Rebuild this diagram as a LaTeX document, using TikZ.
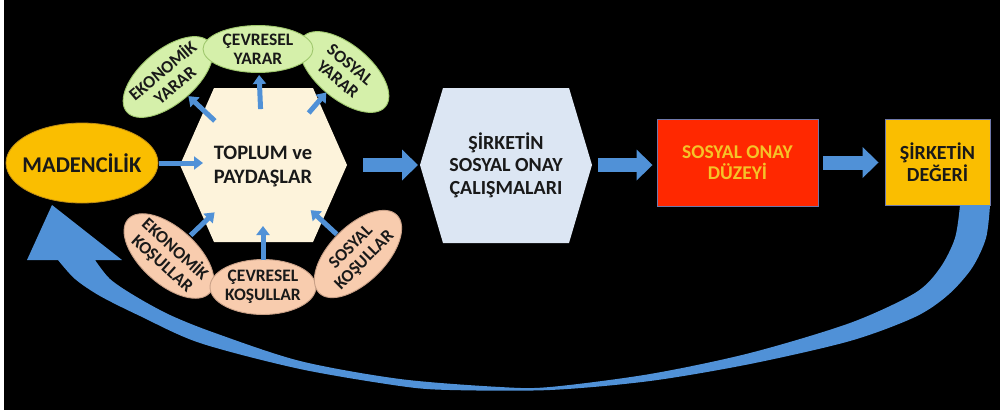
\documentclass[tikz,border=0pt]{standalone}
\usepackage{fontspec}
\setmainfont{Carlito}
\usetikzlibrary{arrows.meta,shapes.geometric}

\definecolor{flowblue}{RGB}{80,145,215}
\definecolor{goldfill}{RGB}{250,190,0}
\definecolor{goldline}{RGB}{190,140,20}
\definecolor{creamfill}{RGB}{253,243,219}
\definecolor{paleblue}{RGB}{220,230,243}
\definecolor{greenfill}{RGB}{213,240,170}
\definecolor{greenline}{RGB}{160,200,110}
\definecolor{peachfill}{RGB}{248,204,174}
\definecolor{peachline}{RGB}{200,160,135}
\definecolor{redfill}{RGB}{255,40,0}
\definecolor{boxline}{RGB}{110,120,170}
\definecolor{ambertext}{RGB}{245,195,40}
\definecolor{darktext}{RGB}{25,25,25}

\begin{document}
\begin{tikzpicture}[x=1pt,y=-1pt,
  maintext/.style={font=\bfseries\fontsize{20.5}{23}\selectfont, text=darktext, align=center, inner sep=0pt},
  bubble/.style={ellipse, draw, line width=0.9pt, inner sep=0pt},
  bubbletext/.style={align=center, inner sep=0pt, text=darktext, font=\bfseries\fontsize{17.5}{19}\selectfont},
  benefit/.style={bubble, fill=greenfill, draw=greenline, minimum width=108, minimum height=54},
  condition/.style={bubble, fill=peachfill, draw=peachline, minimum width=110, minimum height=56},
  statebox/.style={rectangle, draw=boxline, line width=0.9pt, align=center, inner sep=0pt},
  smallarrow/.style={draw=flowblue, line width=5pt, -{Triangle[width=13pt,length=9pt]}},
  bigarrow/.style={draw=flowblue, line width=14pt, -{Triangle[width=30pt,length=16pt]}}
]
\useasboundingbox (0,0) rectangle (1000,410);
\fill[white] (0,0) rectangle (1000,410);
\fill[black] (4,0) rectangle (1000,410);

% hexagon bodies
\fill[creamfill] (180,165) -- (214,88) -- (313,88) -- (347,165) -- (313,242) -- (214,242) -- cycle;
\fill[paleblue] (420,165) -- (443,88) -- (569,88) -- (592,165) -- (569,243) -- (443,243) -- cycle;

% text of the hexagons
\node[maintext, font=\bfseries\fontsize{20.5}{24}\selectfont] (hex1) at (263,166) {TOPLUM ve\\PAYDAŞLAR};
\node[maintext, font=\bfseries\fontsize{20}{22.5}\selectfont] (hex2) at (506,165) {ŞİRKETİN\\SOSYAL ONAY\\ÇALIŞMALARI};
\coordinate (hex1e) at (347,165);
\coordinate (hex2w) at (420,165);
\coordinate (hex2e) at (592,165);

% mining
\node[ellipse, fill=goldfill, draw=goldline, line width=0.8pt, minimum width=152, minimum height=80,
  inner sep=0pt] (maden) at (82,163) {};
\node[maintext, font=\bfseries\fontsize{22.5}{24}\selectfont] (madentext) at (maden) {MADENCİLİK};

% benefits
\node[benefit, rotate=40] (ekyarar) at (168,77) {};
\node[benefit, rotate=-40] (sosyarar) at (344,72) {};
\node[benefit, minimum width=110, minimum height=47] (cevyarar) at (258,49) {};
\node[bubbletext, rotate=40] (ekyarartext) at (ekyarar) {EKONOMİK\\YARAR};
\node[bubbletext, rotate=-40] (sosyarartext) at (sosyarar) {SOSYAL\\YARAR};
\node[bubbletext] (cevyarartext) at (cevyarar) {ÇEVRESEL\\YARAR};

% conditions
\node[condition, rotate=-42] (ekkos) at (169,256) {};
\node[condition, minimum width=106, minimum height=55] (cevkos) at (263,287) {};
\node[condition, rotate=45] (soskos) at (358,254) {};
\node[bubbletext, rotate=-42] (ekkostext) at (ekkos) {EKONOMİK\\KOŞULLAR};
\node[bubbletext] (cevkostext) at (cevkos) {ÇEVRESEL\\KOŞULLAR};
\node[bubbletext, rotate=45] (soskostext) at (soskos) {SOSYAL\\KOŞULLAR};

% result boxes
\node[statebox, fill=redfill, text=ambertext, minimum width=161, minimum height=87,
  font=\bfseries\fontsize{19.5}{20.5}\selectfont] (onay) at (737.5,162.5) {SOSYAL ONAY\\DÜZEYİ};
\node[statebox, fill=goldfill, text=darktext, minimum width=105, minimum height=86,
  font=\bfseries\fontsize{20}{22}\selectfont] (deger) at (937.5,162) {ŞİRKETİN\\DEĞERİ};

% small arrows
\draw[smallarrow, shorten <=77pt, shorten >=60pt] (maden.center) -- (hex1.center |- maden.center);
\draw[smallarrow, shorten <=66pt, shorten >=28pt] (hex1.center) -- (ekyarar.center);
\draw[smallarrow, shorten <=57pt, shorten >=26pt] (hex1.center) -- (cevyarar.center);
\draw[smallarrow, shorten <=70pt, shorten >=27pt] (hex1.center) -- (sosyarar.center);
\draw[smallarrow, shorten <=30pt, shorten >=67pt] (ekkos.center) -- (hex1.center);
\draw[smallarrow, shorten <=27pt, shorten >=60pt] (cevkos.center) -- (hex1.center);
\draw[smallarrow, shorten <=29pt, shorten >=65pt] (soskos.center) -- (hex1.center);

% block arrows between the stages
\draw[bigarrow, shorten <=16pt, shorten >=2pt] (hex1e) -- (hex2w);
\draw[bigarrow, shorten <=6pt, shorten >=4pt] (hex2e) -- (onay.west |- hex2e);
\draw[bigarrow, shorten <=5pt, shorten >=6pt] (onay.east) -- (deger.west |- onay.east);

% feedback arrow from company value back to mining
\coordinate (looptip) at (52,205);
\fill[flowblue] plot[smooth] coordinates {(990,205) (986,238) (972,268) (948,295) (915,317) (850,341)
    (750,364) (650,381) (550,390) (450,390) (400,386) (300,369) (200,343) (140,316) (100,296) (75,279) (58,260)}
  -- (27,260) -- (looptip) -- (122,260) -- (95,260)
  -- plot[smooth] coordinates {(95,260) (110,279) (135,296) (170,315) (215,333) (300,361) (400,379)
    (500,387) (550,387) (650,374) (750,353) (850,323) (915,293) (940,268) (955,238) (960,205)}
  -- cycle;
\end{tikzpicture}
\end{document}
